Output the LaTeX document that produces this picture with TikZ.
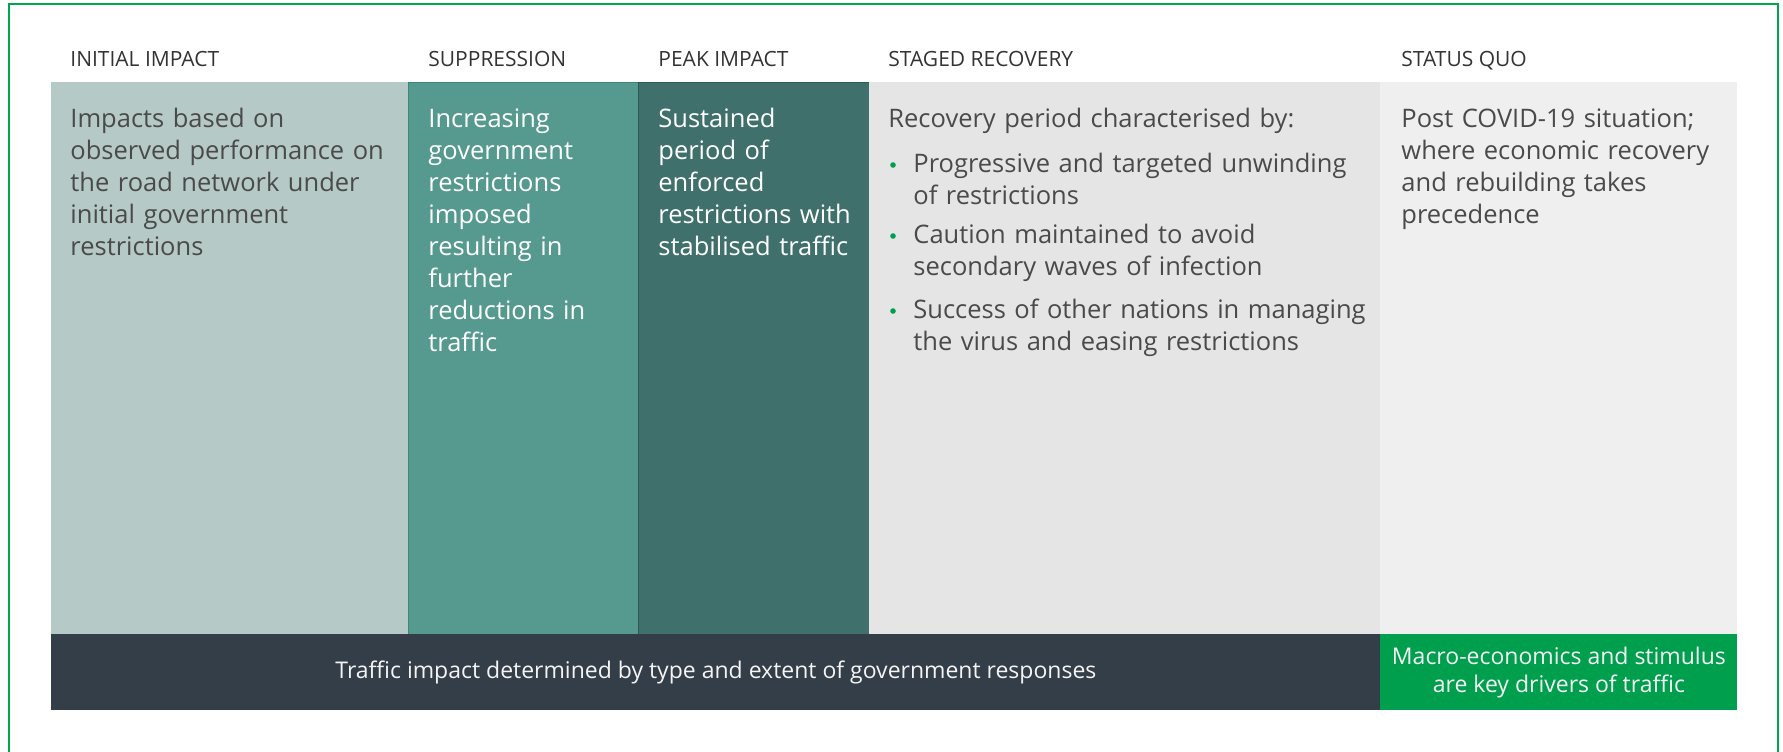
\documentclass[tikz,border=0pt]{standalone}
\usepackage{fontspec}
\setmainfont{Open Sans}
\definecolor{frameg}{HTML}{00A550}
\definecolor{cone}{HTML}{B5C9C6}
\definecolor{ctwo}{HTML}{56998F}
\definecolor{ctwoline}{HTML}{3C857B}
\definecolor{cthree}{HTML}{3F706B}
\definecolor{cthreeline}{HTML}{2A5A54}
\definecolor{cfour}{HTML}{E5E5E5}
\definecolor{cfive}{HTML}{EFEFEF}
\definecolor{band}{HTML}{343E48}
\definecolor{bandg}{HTML}{009F4D}
\definecolor{headc}{HTML}{333333}
\definecolor{bodyc}{HTML}{4A4A4A}
\definecolor{lightc}{HTML}{F4F4F4}
\begin{document}
\begin{tikzpicture}[x=0.5pt,y=-0.5pt,
  colbox/.style={inner sep=0pt, outer sep=0pt, anchor=north west, minimum height=276pt},
  head/.style={anchor=base west, inner sep=0pt, font=\fontsize{10.5}{12}\selectfont, text=headc},
  body/.style={anchor=base west, inner sep=0pt, align=left, text width=320pt, font=\fontsize{12.75}{16}\selectfont},
  bandtext/.style={inner sep=0pt, align=center, font=\fontsize{11.5}{14}\selectfont, text=lightc},
  dot/.style={circle, fill=bandg, inner sep=0pt, minimum size=2.8pt}]
\useasboundingbox (0,0) rectangle (1783,751);
\clip (0,0) rectangle (1783,751);
\draw[frameg, line width=1pt] (9,4) rectangle (1778,800);
% columns
\node[colbox, fill=cone, minimum width=178.5pt] (c1) at (51,82) {};
\node[colbox, fill=ctwo, draw=ctwoline, line width=0.5pt, minimum width=115pt] (c2) at (408,82) {};
\node[colbox, fill=cthree, draw=cthreeline, line width=0.5pt, minimum width=115.5pt] (c3) at (638,82) {};
\node[colbox, fill=cfour, minimum width=255.5pt] (c4) at (869,82) {};
\node[colbox, fill=cfive, minimum width=178.5pt] (c5) at (1380,82) {};
% bottom band
\node[inner sep=0pt, anchor=north west, fill=band, minimum width=664.5pt, minimum height=38pt] (b1) at (51,634) {};
\node[inner sep=0pt, anchor=north west, fill=bandg, minimum width=178.5pt, minimum height=38pt] (b2) at (1380,634) {};
% headers
\node[head] (h1) at (70,66) {INITIAL IMPACT};
\node[head] (h2) at (428,66) {SUPPRESSION};
\node[head] (h3) at (658,66) {PEAK IMPACT};
\node[head] (h4) at (888,66) {STAGED RECOVERY};
\node[head] (h5) at (1401,66) {STATUS QUO};
% bodies
\node[body, text=bodyc] (t1) at (70,127) {Impacts based on\\observed performance on\\the road network under\\initial government\\restrictions};
\node[body, text=white] (t2) at (428,127) {Increasing\\government\\restrictions\\imposed\\resulting in\\further\\reductions in\\traffic};
\node[body, text=white] (t3) at (658,127) {Sustained\\period of\\enforced\\restrictions with\\stabilised traffic};
\node[body, text=bodyc] (t4) at (888,127) {Recovery period characterised by:};
\node[body, text=bodyc] (t4a) at (913,172) {Progressive and targeted unwinding\\of restrictions};
\node[body, text=bodyc] (t4b) at (913,243) {Caution maintained to avoid\\secondary waves of infection};
\node[body, text=bodyc] (t4c) at (913,318) {Success of other nations in managing\\the virus and easing restrictions};
\node[dot] (d1) at (893,165) {};
\node[dot] (d2) at (893,236) {};
\node[dot] (d3) at (893,311) {};
\node[body, text=bodyc] (t5) at (1401,127) {Post COVID-19 situation;\\where economic recovery\\and rebuilding takes\\precedence};
% band texts
\node[bandtext] (bt1) at (b1.center) {Traffic impact determined by type and extent of government responses};
\node[bandtext] (bt2) at (b2.center) {Macro-economics and stimulus\\are key drivers of traffic};
\end{tikzpicture}
\end{document}
